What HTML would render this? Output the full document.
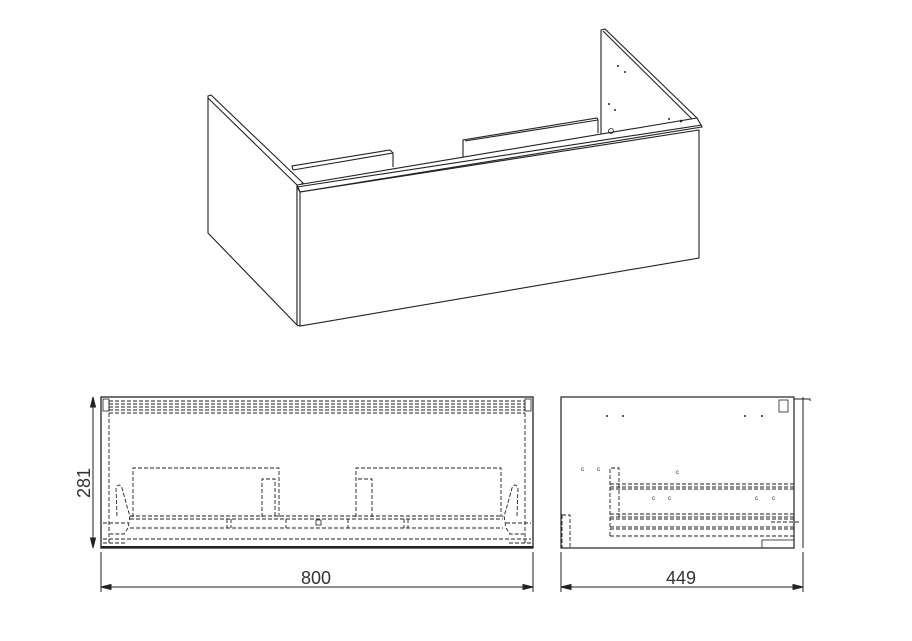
<!DOCTYPE html>
<html><head><meta charset="utf-8"><style>html,body{margin:0;padding:0;background:#fff;}svg{display:block}</style></head>
<body>
<svg width="912" height="641" viewBox="0 0 912 641" xmlns="http://www.w3.org/2000/svg" fill="none" stroke="#222" stroke-width="1">
<!-- 3D view -->
<g stroke="#222" stroke-width="1.1">
<polygon points="208,96 211,95 303,183 297,187 297,325 208,233" fill="#fff"/>
<line x1="208" y1="98" x2="297" y2="185"/>
<polyline points="293,170 292,166 390,150 393,153 393,167"/>
<line x1="293" y1="170" x2="393" y2="153"/>
<polyline points="463,157 463,140 597,118 598,120 598,133"/>
<line x1="465" y1="141" x2="598" y2="120"/>
<polyline points="601,135 601,30 605,29 697,118"/>
<line x1="603" y1="31" x2="694" y2="121"/>
<polygon points="297,185 697,118 702,127 300,192" fill="#fff"/>
<line x1="297" y1="187" x2="702" y2="125"/>
<polygon points="297,187 300,192 699,130 699,258 300,326 297,325" fill="#fff"/>
<line x1="300" y1="192" x2="300" y2="326"/>
</g>
<g fill="#222" stroke="none">
<circle cx="618" cy="66" r="1"/><circle cx="625" cy="72" r="1"/><circle cx="609" cy="104" r="1"/><circle cx="615" cy="110" r="1"/><circle cx="669" cy="119" r="1"/><circle cx="681" cy="121" r="1.3"/>
</g>
<circle cx="611" cy="131" r="2.5" stroke-width="0.8"/>

<!-- Front view -->
<rect x="101" y="397" width="432" height="151" stroke-width="1.3"/>
<line x1="101" y1="547" x2="533" y2="547" stroke-width="2"/>
<g stroke-dasharray="4,2" stroke-width="0.9">
<line x1="109" y1="401" x2="525" y2="401"/>
<line x1="109" y1="404" x2="525" y2="404"/>
<line x1="109" y1="407" x2="525" y2="407"/>
<line x1="109" y1="410" x2="525" y2="410"/>
<line x1="109" y1="413" x2="525" y2="413"/>
<line x1="109" y1="401" x2="109" y2="545"/>
<line x1="525" y1="401" x2="525" y2="545"/>
<polyline points="133,517 133,468 279,468 279,517"/>
<polyline points="262,517 262,479 275,479 275,517"/>
<polyline points="356,517 356,468 501,468 501,517"/>
<polyline points="372,517 372,479 357,479"/>
<line x1="130" y1="516" x2="503" y2="516"/>
<line x1="130" y1="519" x2="503" y2="519"/>
<line x1="130" y1="528" x2="503" y2="528"/>
<line x1="103" y1="539" x2="531" y2="539"/>
<line x1="227" y1="519" x2="227" y2="528"/><line x1="231" y1="519" x2="231" y2="528"/>
<line x1="286" y1="519" x2="286" y2="528"/><line x1="348" y1="519" x2="348" y2="528"/>
<line x1="404" y1="519" x2="404" y2="528"/><line x1="408" y1="519" x2="408" y2="528"/>
<path d="M117,516 L116,488 Q119,482 122,488 L128,510 L130,516 L128,528 L124,534 L110,534"/>
<path d="M517,516 L518,488 Q515,482 512,488 L506,510 L504,516 L506,528 L510,534 L524,534"/>
<line x1="103" y1="523" x2="128" y2="523"/><line x1="506" y1="523" x2="531" y2="523"/>
<line x1="103" y1="543" x2="125" y2="543"/><line x1="509" y1="543" x2="531" y2="543"/>
</g>
<rect x="316" y="520" width="5" height="5" stroke-width="0.8"/>
<rect x="103" y="399" width="6" height="12" stroke-width="0.8"/>
<rect x="525" y="399" width="6" height="12" stroke-width="0.8"/>
<line x1="93" y1="397" x2="93" y2="548"/>
<path d="M93,397 l-2.5,10 h5 z M93,548 l-2.5,-10 h5 z" fill="#222"/>
<line x1="101" y1="552" x2="101" y2="592"/><line x1="533" y1="552" x2="533" y2="592"/>
<line x1="101" y1="587" x2="533" y2="587"/>
<path d="M101,587 l10,-2.5 v5 z M533,587 l-10,-2.5 v5 z" fill="#222"/>
<g fill="#333" stroke="none" font-family="Liberation Sans, sans-serif" font-size="18">
<text x="316" y="584" text-anchor="middle">800</text>
<text transform="translate(90,483) rotate(-90)" text-anchor="middle">281</text>
<text x="681" y="584" text-anchor="middle">449</text>
</g>

<!-- Side view -->
<rect x="561" y="397" width="233" height="151" stroke-width="1.2"/>
<line x1="803" y1="397" x2="803" y2="548"/>
<polyline points="794,399 810,399 810,401"/>
<g stroke-dasharray="4,2" stroke-width="0.9">
<polyline points="610,527 610,468 619,468 619,517"/>
<line x1="610" y1="484" x2="794" y2="484"/><line x1="610" y1="487" x2="794" y2="487"/><line x1="610" y1="489" x2="794" y2="489"/>
<line x1="610" y1="514" x2="794" y2="514"/><line x1="610" y1="517" x2="794" y2="517"/><line x1="610" y1="519" x2="794" y2="519"/>
<line x1="610" y1="527" x2="794" y2="527"/><line x1="610" y1="529" x2="794" y2="529"/><line x1="610" y1="536" x2="794" y2="536"/>
<line x1="610" y1="536" x2="610" y2="529"/>
<rect x="562" y="515" width="8" height="33"/>
<line x1="771" y1="522" x2="800" y2="522"/>
</g>
<rect x="762" y="540" width="32" height="8" stroke-width="0.8"/>
<rect x="779" y="400" width="9" height="12" stroke-width="0.8"/>
<g fill="#222" stroke="none" font-family="Liberation Sans, sans-serif" font-size="6">
<circle cx="607" cy="416" r="1"/><circle cx="623" cy="416" r="1"/><circle cx="745" cy="416" r="1"/><circle cx="762" cy="416" r="1"/>
<text x="581" y="471">c</text><text x="597" y="471">c</text><text x="676" y="474">c</text>
<text x="652" y="500">c</text><text x="668" y="500">c</text><text x="755" y="500">c</text><text x="772" y="500">c</text>
</g>
<line x1="561" y1="552" x2="561" y2="592"/><line x1="803" y1="552" x2="803" y2="592"/>
<line x1="561" y1="587" x2="803" y2="587"/>
<path d="M561,587 l10,-2.5 v5 z M803,587 l-10,-2.5 v5 z" fill="#222"/>
</svg>
</body></html>
